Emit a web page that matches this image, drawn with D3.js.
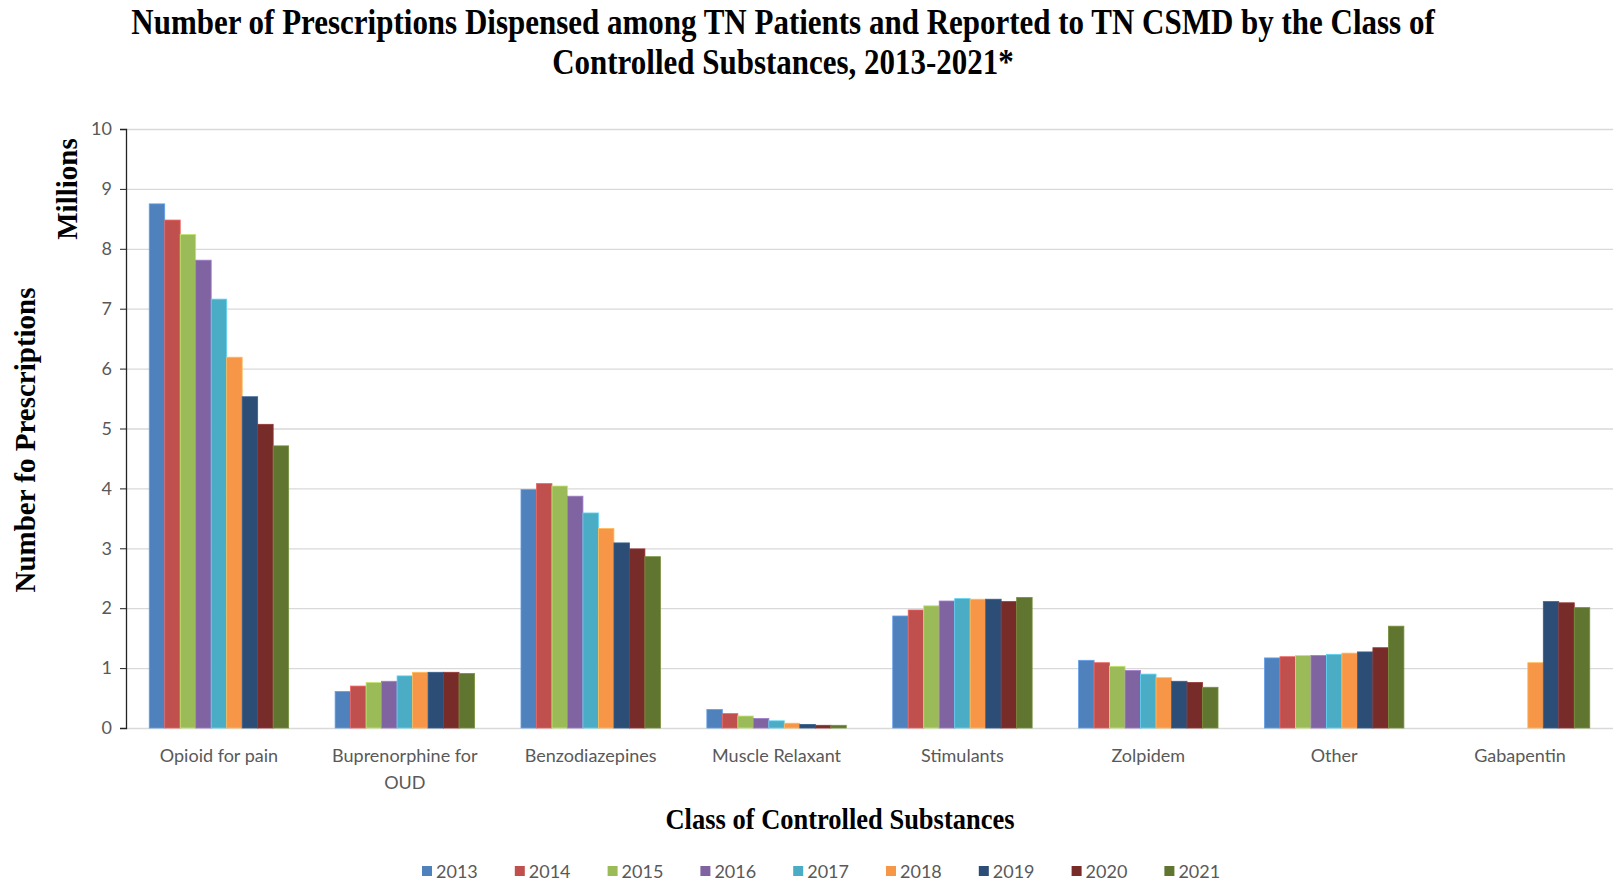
<!DOCTYPE html>
<html>
<head>
<meta charset="utf-8">
<script src="https://cdn.jsdelivr.net/npm/d3@7"></script>
<style>
  body { margin: 0; background: #fff; }
  svg { display: block; }
</style>
</head>
<body>
<div id="chart"></div>
<script>
var categories = ['Opioid for pain', 'Buprenorphine for OUD', 'Benzodiazepines', 'Muscle Relaxant',
                  'Stimulants', 'Zolpidem', 'Other', 'Gabapentin'];
var years = ['2013', '2014', '2015', '2016', '2017', '2018', '2019', '2020', '2021'];
var colors = ['#4F81BD', '#C0504D', '#9BBB59', '#8064A2', '#4BACC6', '#F79646', '#2C4D75', '#772C2A', '#5F7530'];
var yTicks = [0, 1, 2, 3, 4, 5, 6, 7, 8, 9, 10];

// millions of prescriptions, one array per year, in category order
var v2013 = [8.75, 0.61, 3.98, 0.31, 1.87, 1.13, 1.17, null];
var v2014 = [8.48, 0.70, 4.08, 0.24, 1.97, 1.09, 1.19, null];
var v2015 = [8.24, 0.76, 4.04, 0.20, 2.04, 1.03, 1.21, null];
var v2016 = [7.81, 0.78, 3.87, 0.16, 2.12, 0.96, 1.21, null];
var v2017 = [7.16, 0.87, 3.59, 0.12, 2.16, 0.90, 1.23, null];
var v2018 = [6.19, 0.93, 3.33, 0.08, 2.15, 0.84, 1.25, 1.09];
var v2019 = [5.53, 0.93, 3.09, 0.06, 2.15, 0.78, 1.27, 2.11];
var v2020 = [5.07, 0.93, 2.99, 0.045, 2.11, 0.76, 1.34, 2.09];
var v2021 = [4.71, 0.91, 2.86, 0.045, 2.18, 0.68, 1.70, 2.01];
var series = [v2013, v2014, v2015, v2016, v2017, v2018, v2019, v2020, v2021];

var width = 1616,
    height = 882,
    plotLeft = 126,
    plotRight = 1613,
    plotTop = 129,
    plotBottom = 728;

var svg = d3.select('#chart')
    .append('svg')
    .attr('width', width)
    .attr('height', height);

var x0 = d3.scaleBand().domain(categories).range([plotLeft, plotRight]).paddingInner(0.25).paddingOuter(0.125);
var x1 = d3.scaleBand().domain(years).range([0, x0.bandwidth()]);
var y = d3.scaleLinear().domain([0, 10]).range([plotBottom, plotTop]);

// gridlines
svg.append('g')
    .selectAll('line')
    .data(yTicks)
    .enter()
    .append('line')
    .attr('x1', plotLeft)
    .attr('x2', plotRight)
    .attr('y1', function(d) { return y(d) + 0.5; })
    .attr('y2', function(d) { return y(d) + 0.5; })
    .attr('stroke', '#d9d9d9')
    .attr('stroke-width', 1.3);

// bars
var rows = [];
series.forEach(function(vals, i) {
    vals.forEach(function(v, j) {
        if (v != null) rows.push({ year: years[i], cat: categories[j], value: v, color: colors[i] });
    });
});

svg.append('g')
    .selectAll('rect')
    .data(rows)
    .enter()
    .append('rect')
    .attr('x', function(d) { return x0(d.cat) + x1(d.year); })
    .attr('y', function(d) { return y(d.value); })
    .attr('width', x1.bandwidth())
    .attr('height', function(d) { return y(0) - y(d.value); })
    .attr('fill', function(d) { return d.color; })
    .attr('stroke', function(d) { return d3.color(d.color).brighter(0.6); })
    .attr('stroke-width', 0.8);

// y axis
var yAxis = svg.append('g')
    .attr('transform', 'translate(' + plotLeft + ',0)')
    .call(d3.axisLeft(y).tickValues(yTicks).tickSize(6).tickPadding(8));
yAxis.select('.domain').attr('stroke', '#222').attr('stroke-width', 1.3);
yAxis.selectAll('.tick line').attr('stroke', '#222');
yAxis.selectAll('text')
    .attr('fill', '#595959')
    .style('font-family', 'Lato, "Open Sans", sans-serif')
    .style('font-size', '18px');

// x labels
svg.append('g')
    .selectAll('text')
    .data(categories)
    .enter()
    .append('text')
    .attr('x', function(d) { return x0(d) + x0.bandwidth() / 2; })
    .attr('y', 762)
    .attr('text-anchor', 'middle')
    .attr('fill', '#595959')
    .style('font-family', 'Lato, "Open Sans", sans-serif')
    .style('font-size', '18px')
    .each(function(d) {
        var t = d3.select(this);
        var parts = d === 'Buprenorphine for OUD' ? ['Buprenorphine for', 'OUD'] : [d];
        parts.forEach(function(p, i) {
            t.append('tspan').attr('x', x0(d) + x0.bandwidth() / 2).attr('dy', i ? 27 : 0).text(p);
        });
    });

// titles
var serif = '"Liberation Serif", "Times New Roman", serif';
var title = svg.append('g')
    .attr('transform', 'translate(783,0) scale(1,1.15)')
    .style('font-family', serif)
    .style('font-weight', 'bold')
    .style('font-size', '31px')
    .attr('text-anchor', 'middle');
title.append('text').attr('y', 29.5).text('Number of Prescriptions Dispensed among TN Patients and Reported to TN CSMD by the Class of');
title.append('text').attr('y', 64).text('Controlled Substances, 2013-2021*');

svg.append('text')
    .attr('transform', 'translate(840,829) scale(1,1.1)')
    .attr('text-anchor', 'middle')
    .style('font-family', serif)
    .style('font-weight', 'bold')
    .style('font-size', '26.5px')
    .text('Class of Controlled Substances');

svg.append('text')
    .attr('transform', 'translate(35,440) rotate(-90)')
    .attr('text-anchor', 'middle')
    .style('font-family', serif)
    .style('font-weight', 'bold')
    .style('font-size', '29px')
    .text('Number fo Prescriptions');

svg.append('text')
    .attr('transform', 'translate(77,189) rotate(-90)')
    .attr('text-anchor', 'middle')
    .style('font-family', serif)
    .style('font-weight', 'bold')
    .style('font-size', '29px')
    .text('Millions');

// legend
var legend = svg.append('g')
    .selectAll('g')
    .data(years)
    .enter()
    .append('g')
    .attr('transform', function(d, i) { return 'translate(' + (422 + i * 92.8) + ',872)'; });
legend.append('rect')
    .attr('x', 0)
    .attr('y', -6)
    .attr('width', 10)
    .attr('height', 10)
    .attr('fill', function(d, i) { return colors[i]; });
legend.append('text')
    .attr('x', 14)
    .attr('y', 6)
    .attr('fill', '#595959')
    .style('font-family', 'Lato, "Open Sans", sans-serif')
    .style('font-size', '18px')
    .text(function(d) { return d; });
</script>
</body>
</html>
